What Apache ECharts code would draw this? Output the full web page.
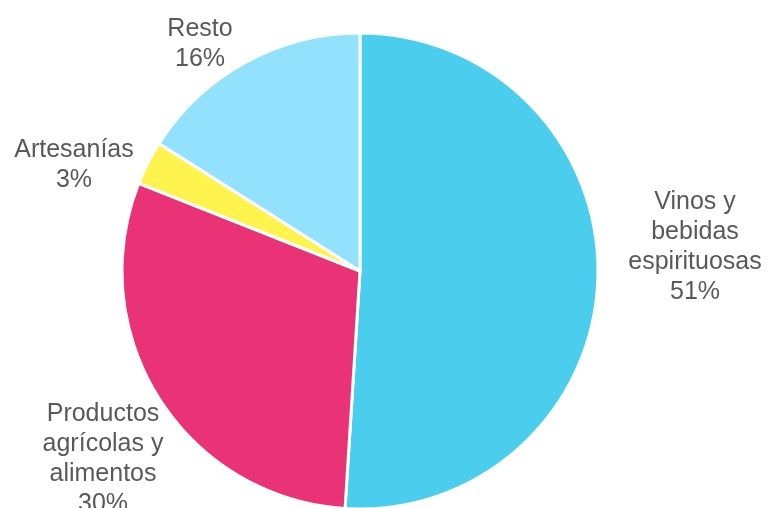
<!DOCTYPE html>
<html>
<head>
<meta charset="utf-8">
<script src="https://cdn.jsdelivr.net/npm/echarts@6/dist/echarts.min.js"></script>
<style>
  html, body { margin: 0; padding: 0; background: #fff; }
  #pie-chart { width: 769px; height: 508px; }
</style>
</head>
<body>
<div id="pie-chart"></div>
<script>
var categories = [
   "Vinos y\nbebidas\nespirituosas",
   "Productos\nagrícolas y\nalimentos",
   "Artesanías",
   "Resto",
];
var shares = [51, 30, 3, 16];

function pie_echart(){
   var colors = ["#4BCEEE", "#EA3376", "#FFF34E", "#92E2FE"];
   var cx = 360, cy = 271, r = 238;
   // label centres relative to pie centre (Excel "best fit")
   var label_offsets = [
      [335, -24],
      [-257, 188],
      [-286, -106],
      [-160, -227],
   ];

   var make_data = () => {
      var result = [];
      categories.forEach((name, idx) => {
         result.push({
            name: name,
            value: shares[idx],
            itemStyle: { color: colors[idx] },
         });
      });
      return result;
   };

   var option = {
      animation: false,
      series: [
         {
            type: "pie",
            center: [cx, cy],
            radius: r,
            startAngle: 90,
            clockwise: true,
            data: make_data(),
            itemStyle: {
               borderColor: "#fff",
               borderWidth: 3,
            },
            label: {
               show: true,
               position: "outside",
               color: "#595959",
               fontFamily: "Liberation Sans, Arial, sans-serif",
               fontSize: 25,
               lineHeight: 30,
               align: "center",
               overflow: "none",
               edgeDistance: 0,
               bleedMargin: 0,
               formatter: (p) => p.name + "\n" + Math.round(p.percent) + "%",
            },
            labelLine: { show: false },
            labelLayout: (p) => {
               var off = label_offsets[p.dataIndex];
               return {
                  x: cx + off[0],
                  y: cy + off[1],
                  align: "center",
                  verticalAlign: "middle",
               };
            },
         }
      ],
   };

   var dom = document.querySelector("#pie-chart");
   var myChart = echarts.init(dom);
   myChart.setOption(option, true);
}
pie_echart();
</script>
</body>
</html>
